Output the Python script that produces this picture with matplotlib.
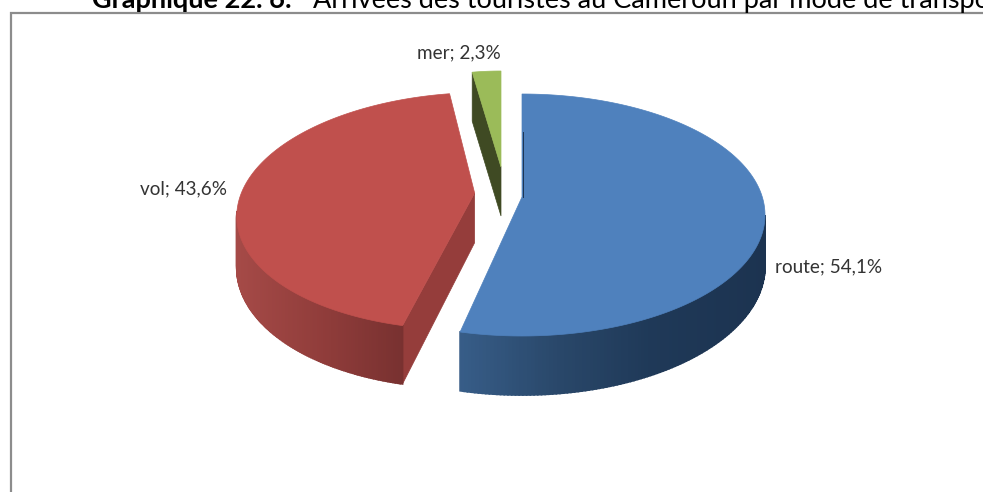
import numpy as np
import matplotlib
matplotlib.use("Agg")
import matplotlib.pyplot as plt
from matplotlib.colors import to_rgb

# donnees du graphique
categories = ["route", "mer", "vol"]
values = [54.1, 2.3, 43.6]
labels = ["route; 54,1%", "mer; 2,3%", "vol; 43,6%"]
title_bold = "Graphique 22. 6:"
title_rest = "Arrivées des touristes au Cameroun par mode de transport"

# order clockwise from the top: route, vol, mer
order = [0, 2, 1]
top_colors = {"route": "#4f81bd", "vol": "#c0504d", "mer": "#9bbb59"}

# centre x, centre y, rx, ry, shear
geom = {
    "route": (522, 215, 243, 121, 0.0),
    "vol": (473, 211, 236, 118.5, -0.09),
    "mer": (501, 185, 200, 114, 0.0),
}
apex_lift = 18

side_stops = {
    "route": [(459, "#375d88"), (560, "#294769"), (650, "#1f3958"), (765, "#1c3350")],
    "vol": [(237, "#a54a47"), (320, "#913d3b"), (403, "#783130")],
}
cut_colors = {"vol": "#953d3b", "mer": "#3f4a23"}


def depth(name, y):
    if name == "mer":
        return 49
    return 50 + (y - 197) * 0.065


def project(name, th):
    cx, cy, rx, ry, k = geom[name]
    y = cy - ry * np.cos(th)
    x = cx + rx * np.sin(th) + k * (y - cy)
    return x, y


def side_color(name, x):
    stops = side_stops[name]
    xs = [s[0] for s in stops]
    rgb = np.array([to_rgb(s[1]) for s in stops])
    return tuple(np.interp(x, xs, rgb[:, i]) for i in range(3))


fig = plt.figure(figsize=(9.83, 4.92), dpi=100)
ax = fig.add_axes([0, 0, 1, 1])
ax.set_xlim(0, 983)
ax.set_ylim(492, 0)
ax.axis("off")

# cumulated angles from the values
ordered = [categories[i] for i in order]
vals = np.array([values[i] for i in order])
edges = np.concatenate([[0], np.cumsum(vals)]) / vals.sum() * 2 * np.pi
spans = {n: (edges[i], edges[i + 1]) for i, n in enumerate(ordered)}

# frame
ax.plot([11, 11, 983], [492, 13, 13], color="#8c8c8c", lw=1.6, solid_joinstyle="miter")

for name in ordered:
    t0, t1 = spans[name]
    cx, cy, rx, ry, k = geom[name]
    apex = (cx + k * (-apex_lift), cy - apex_lift)

    # cut faces
    if name in cut_colors:
        xe, ye = project(name, t0)
        ax.fill([apex[0], xe, xe, apex[0]],
                [apex[1], ye, ye + depth(name, ye), apex[1] + depth(name, apex[1])],
                color=cut_colors[name], lw=0.5)

    # outer wall, only the part that faces the viewer
    lo = max(t0, np.pi / 2)
    hi = min(t1, 3 * np.pi / 2)
    if lo < hi and name in side_stops:
        grid = np.linspace(lo, hi, 120)
        for a, b in zip(grid[:-1], grid[1:]):
            xa, ya = project(name, a)
            xb, yb = project(name, b)
            ax.fill([xa, xb, xb, xa],
                    [ya, yb, yb + depth(name, yb), ya + depth(name, ya)],
                    color=side_color(name, (xa + xb) / 2), lw=1.2)

    # top face
    th = np.linspace(t0, t1, 200)
    xs, ys = project(name, th)
    ax.fill(np.r_[apex[0], xs], np.r_[apex[1], ys], color=top_colors[name], lw=0.5)

    # thin dark edge along the route slice
    if name == "route":
        ax.plot([apex[0] + 1, apex[0] + 1], [apex[1] - 65, apex[1]], color="#1c3350", lw=0.7)

ax.text(829, 267, labels[0], ha="center", va="center", fontsize=13.6, family="Lato", color="#333333")
ax.text(459, 53, labels[1], ha="center", va="center", fontsize=13.6, family="Lato", color="#333333")
ax.text(183, 189, labels[2], ha="center", va="center", fontsize=13.6, family="Lato", color="#333333")

ax.text(92, 8, title_bold, ha="left", va="baseline", fontsize=19.5, family="Lato", weight="bold", color="black", clip_on=True)
ax.text(313, 8, title_rest, ha="left", va="baseline", fontsize=19.5, family="Lato", color="black", clip_on=True)

fig.savefig("out.png", dpi=100)
